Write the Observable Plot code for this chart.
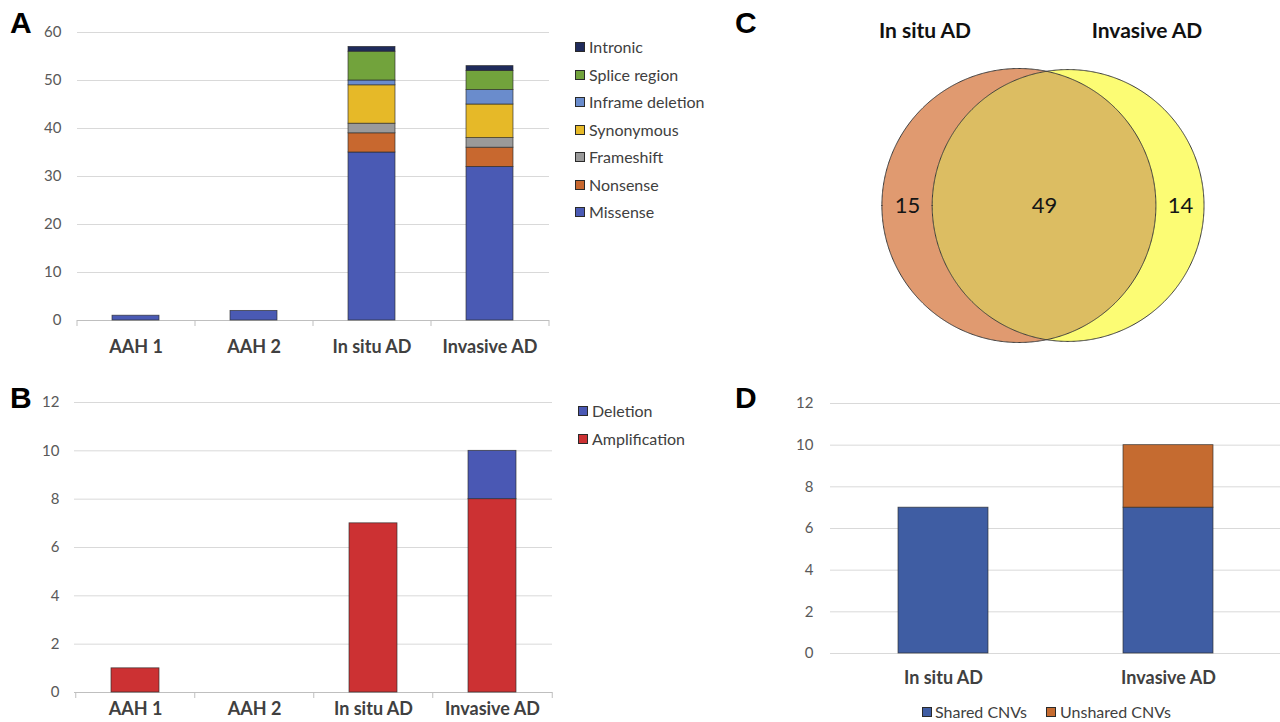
<!DOCTYPE html>
<html><head><meta charset="utf-8">
<script src="https://cdn.jsdelivr.net/npm/d3@7"></script>
<script src="https://cdn.jsdelivr.net/npm/@observablehq/plot@0.6"></script>
<style>
html,body{margin:0;padding:0;background:#fff;overflow:hidden;}
#root{position:relative;width:1280px;height:722px;overflow:hidden;font-family:Lato,"Open Sans",sans-serif;}
.panel{position:absolute;}
.letter{position:absolute;font-family:"Liberation Sans",Arial,sans-serif;font-weight:bold;font-size:30px;line-height:30px;color:#000;}
.item{position:absolute;white-space:nowrap;display:flex;align-items:center;height:20px;line-height:20px;font-size:16px;color:#404040;}
.sw{display:inline-block;width:10px;height:10px;border:1px solid #2a2a2a;box-sizing:border-box;margin-right:4px;}
.vtitle{position:absolute;font-weight:bold;font-size:21px;color:#111;white-space:nowrap;transform:translate(-50%,-50%);}
</style></head><body><div id="root"></div><script>
// ---------- DATA ----------
// Panel A: somatic mutations per lesion
const mutCategories = ["AAH 1", "AAH 2", "In situ AD", "Invasive AD"];
const mutTypes = ["Missense", "Nonsense", "Frameshift", "Synonymous", "Inframe deletion", "Splice region", "Intronic"];
const mutColors = ["#4a5ab4", "#c8682f", "#9a9a9a", "#e6b928", "#6a8ccc", "#72a33c", "#1f2b5b"];
const mutMissense   = [1, 2, 35, 32];
const mutNonsense   = [0, 0, 4, 4];
const mutFrameshift = [0, 0, 2, 2];
const mutSynonymous = [0, 0, 8, 7];
const mutInframe    = [0, 0, 1, 3];
const mutSplice     = [0, 0, 6, 4];
const mutIntronic   = [0, 0, 1, 1];
const mutTicks = [0, 10, 20, 30, 40, 50, 60];

// Panel B: copy number variants per lesion
const cnvCategories = ["AAH 1", "AAH 2", "In situ AD", "Invasive AD"];
const cnvTypes = ["Amplification", "Deletion"];
const cnvColors = ["#cc3133", "#4a58b4"];
const cnvAmplification = [1, 0, 7, 8];
const cnvDeletion      = [0, 0, 0, 2];
const cnvTicks = [0, 2, 4, 6, 8, 10, 12];

// Panel C: Venn of mutations
const vennSets = ["In situ AD", "Invasive AD"];
const vennOnlyA = 15;
const vennShared = 49;
const vennOnlyB = 14;
const vennColors = ["#e09a70", "#fcfc74", "#dcbd62"];

// Panel D: shared / unshared CNVs
const shCategories = ["In situ AD", "Invasive AD"];
const shTypes = ["Shared CNVs", "Unshared CNVs"];
const shColors = ["#3f5da3", "#c56b30"];
const shShared   = [7, 7];
const shUnshared = [0, 3];
const shTicks = [0, 2, 4, 6, 8, 10, 12];

// ---------- HELPERS ----------
const root = document.getElementById("root");
const FONT = "Lato, 'Open Sans', sans-serif";

function place(el, left, top) {
  el.style.position = "absolute"; el.style.left = left + "px"; el.style.top = top + "px";
  root.appendChild(el);
}
function letter(txt, left, top) {
  const d = document.createElement("div"); d.className = "letter"; d.textContent = txt;
  place(d, left, top);
}
function legendItem(label, color, left, cy, gap) {
  const d = document.createElement("div"); d.className = "item";
  const s = document.createElement("span"); s.className = "sw"; s.style.background = color;
  if (gap != null) s.style.marginRight = gap + "px";
  d.appendChild(s); d.appendChild(document.createTextNode(label));
  place(d, left, cy - 10);
}

function stackedBar(o) {
  const rows = [];
  o.types.forEach((t, j) => o.categories.forEach((c, i) => {
    const v = o.series[j][i];
    if (v > 0) rows.push({cat: c, type: t, value: v});
  }));
  const n = o.categories.length;
  const step = (o.x1 - o.x0) / n;
  const ppu = (o.yZero - o.yTop) / o.yMax;
  const marks = [
    Plot.gridY(o.ticks.filter(t => t > 0), {stroke: "#d9d9d9", strokeOpacity: 1, strokeWidth: 1}),
    Plot.ruleY([0], {stroke: o.zeroColor, strokeWidth: 1})
  ];
  if (o.boundaryTicks) {
    marks.push(Plot.ruleX(o.categories, {x: d => d, y1: 0, y2: -6 / ppu, dx: -step / 2, stroke: o.zeroColor}));
    marks.push(Plot.ruleX(o.categories.slice(-1), {x: d => d, y1: 0, y2: -6 / ppu, dx: step / 2, stroke: o.zeroColor}));
  }
  marks.push(
    Plot.barY(rows, {x: "cat", y: "value", fill: "type", order: o.types, stroke: "#2a2a2a", strokeWidth: 0.8, strokeOpacity: 0.8}),
    Plot.axisY({ticks: o.ticks, tickSize: 0, tickPadding: o.tickPad, fontSize: 15, color: "#595959", label: null}),
    Plot.axisX({tickSize: 0, tickPadding: o.catPad, fontSize: 18, fontWeight: "bold", color: "#404040", label: null})
  );
  const svg = Plot.plot({
    width: o.width, height: o.height,
    marginLeft: o.x0 - o.left, marginRight: o.left + o.width - o.x1,
    marginTop: o.yTop - o.top, marginBottom: o.top + o.height - o.yZero,
    style: {fontFamily: FONT, background: "transparent", overflow: "visible"},
    x: {domain: o.categories, paddingInner: 0.6, paddingOuter: 0.3},
    y: {domain: [0, o.yMax]},
    color: {domain: o.types, range: o.colors},
    marks
  });
  place(svg, o.left, o.top);
  return svg;
}

// ---------- PANEL A ----------
stackedBar({
  categories: mutCategories, types: mutTypes, colors: mutColors,
  series: [mutMissense, mutNonsense, mutFrameshift, mutSynonymous, mutInframe, mutSplice, mutIntronic],
  ticks: mutTicks, yMax: 60,
  left: 0, top: 0, width: 560, height: 370,
  x0: 77, x1: 549, yTop: 32, yZero: 320, tickPad: 16, catPad: 20,
  zeroColor: "#bfbfbf", boundaryTicks: true
});
letter("A", 10, 8);
// legend A (top entry = last stacked series)
mutTypes.slice().reverse().forEach((t, i) => {
  legendItem(t, mutColors[mutTypes.indexOf(t)], 575, 47 + i * 27.5);
});

// ---------- PANEL B ----------
stackedBar({
  categories: cnvCategories, types: cnvTypes, colors: cnvColors,
  series: [cnvAmplification, cnvDeletion],
  ticks: cnvTicks, yMax: 12,
  left: 0, top: 370, width: 560, height: 352,
  x0: 74, x1: 552, yTop: 402, yZero: 692, tickPad: 15, catPad: 10,
  zeroColor: "#bfbfbf", boundaryTicks: true
});
letter("B", 10, 383);
cnvTypes.slice().reverse().forEach((t, i) => {
  legendItem(t, cnvColors[cnvTypes.indexOf(t)], 578, 411 + i * 27.5);
});

// ---------- PANEL D ----------
stackedBar({
  categories: shCategories, types: shTypes, colors: shColors,
  series: [shShared, shUnshared],
  ticks: shTicks, yMax: 12,
  left: 720, top: 370, width: 560, height: 352,
  x0: 830, x1: 1280, yTop: 403, yZero: 653, tickPad: 17, catPad: 18,
  zeroColor: "#d9d9d9", boundaryTicks: false
});
letter("D", 735, 383);
legendItem(shTypes[0], shColors[0], 922, 712, 3);
legendItem(shTypes[1], shColors[1], 1046, 712, 4);

// ---------- PANEL C (area-proportional Venn) ----------
(function () {
  const totA = vennOnlyA + vennShared, totB = vennOnlyB + vennShared;
  const rA = Math.sqrt(totA / Math.PI), rB = Math.sqrt(totB / Math.PI);
  function lens(d) {
    if (d >= rA + rB) return 0;
    if (d <= Math.abs(rA - rB)) return Math.PI * Math.min(rA, rB) ** 2;
    const a = rA * rA * Math.acos((d * d + rA * rA - rB * rB) / (2 * d * rA));
    const b = rB * rB * Math.acos((d * d + rB * rB - rA * rA) / (2 * d * rB));
    const c = 0.5 * Math.sqrt((-d + rA + rB) * (d + rA - rB) * (d - rA + rB) * (d + rA + rB));
    return a + b - c;
  }
  let lo = Math.abs(rA - rB), hi = rA + rB;
  for (let k = 0; k < 80; k++) { const m = (lo + hi) / 2; if (lens(m) > vennShared) lo = m; else hi = m; }
  const d = (lo + hi) / 2;

  const W = 560, H = 370;
  const pxPerUnit = 137 / rA;           // circle size in the panel
  const cxPx = 323.5, cyPx = 205.5;     // midpoint between centres, in panel pixels
  const mid = d / 2;
  const xDom = [mid - cxPx / pxPerUnit, mid + (W - cxPx) / pxPerUnit];
  const yDom = [-(H - cyPx) / pxPerUnit, cyPx / pxPerUnit];

  function circle(cx, r) {
    const pts = [];
    for (let i = 0; i <= 360; i++) {
      const t = Math.PI * i / 360, h = r * Math.sin(t);
      pts.push({x: cx - r * Math.cos(t), y1: -h, y2: h});
    }
    return pts;
  }
  const circA = circle(0, rA), circB = circle(d, rB);
  const xs = [];
  for (const p of circA) if (p.x >= d - rB && p.x <= rA) xs.push(p.x);
  for (const p of circB) if (p.x >= d - rB && p.x <= rA) xs.push(p.x);
  xs.sort((a, b) => a - b);
  const lensPts = xs.map(x => {
    const h = Math.min(Math.sqrt(Math.max(0, rA * rA - x * x)), Math.sqrt(Math.max(0, rB * rB - (x - d) * (x - d))));
    return {x, y1: -h, y2: h};
  });
  const labels = [
    {x: (-rA + d - rB) / 2, text: String(vennOnlyA)},
    {x: (d - rB + rA) / 2, text: String(vennShared)},
    {x: (rA + d + rB) / 2, text: String(vennOnlyB)}
  ];
  const svg = Plot.plot({
    width: W, height: H, margin: 0,
    style: {fontFamily: FONT, background: "transparent", overflow: "visible"},
    x: {domain: xDom, axis: null},
    y: {domain: yDom, axis: null},
    marks: [
      Plot.areaY(circA, {x: "x", y1: "y1", y2: "y2", fill: vennColors[0]}),
      Plot.areaY(circB, {x: "x", y1: "y1", y2: "y2", fill: vennColors[1]}),
      Plot.areaY(lensPts, {x: "x", y1: "y1", y2: "y2", fill: vennColors[2]}),
      Plot.areaY(circA, {x: "x", y1: "y1", y2: "y2", fill: "none", stroke: "#3c3c3c", strokeWidth: 1}),
      Plot.areaY(circB, {x: "x", y1: "y1", y2: "y2", fill: "none", stroke: "#3c3c3c", strokeWidth: 1}),
      Plot.text(labels, {x: "x", y: () => 0, text: "text", fontSize: 22, fill: "#151515"})
    ]
  });
  place(svg, 720, 0);
  const t1 = document.createElement("div"); t1.className = "vtitle"; t1.textContent = vennSets[0]; place(t1, 925, 29);
  const t2 = document.createElement("div"); t2.className = "vtitle"; t2.textContent = vennSets[1]; place(t2, 1147, 29);
})();
letter("C", 735, 8);
</script></body></html>
